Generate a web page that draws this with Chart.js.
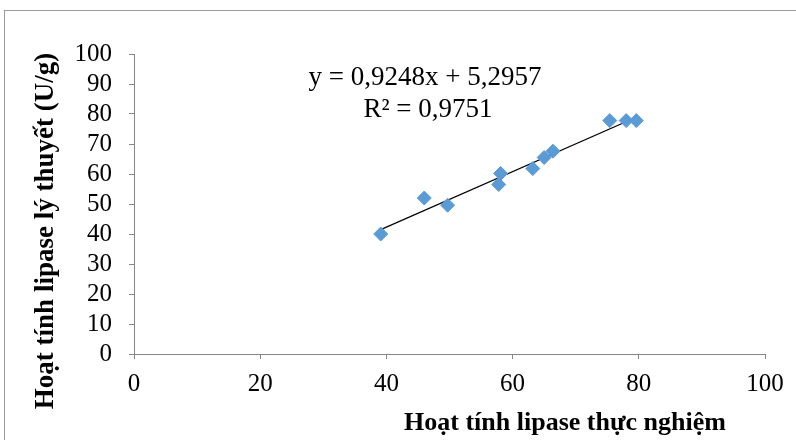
<!DOCTYPE html>
<html>
<head>
<meta charset="utf-8">
<script src="https://cdn.jsdelivr.net/npm/chart.js@4.4.1/dist/chart.umd.min.js"></script>
<style>
  html, body { margin: 0; padding: 0; background: #fff; }
  #wrap { width: 796px; height: 440px; }
</style>
</head>
<body>
<div id="wrap"><canvas id="lipaseChart" width="796" height="440"></canvas></div>
<script>
const xValues = [39.1, 46.0, 49.7, 57.8, 58.1, 63.2, 65.0, 66.4, 75.4, 78.0, 79.6];
const yValues = [40.0, 52.0, 49.6, 56.5, 60.2, 61.8, 65.5, 67.6, 77.8, 77.8, 77.8];

// linear trendline as printed on the chart
const slope = 0.9248;
const intercept = 5.2957;
const equationText = 'y = 0,9248x + 5,2957';
const r2Text = 'R² = 0,9751';

const xTitle = 'Hoạt tính lipase thực nghiệm';
const yTitle = 'Hoạt tính lipase lý thuyết (U/g)';

const points = xValues.map((x, i) => ({ x: x, y: yValues[i] }));
const xMin = Math.min(...xValues);
const xMax = Math.max(...xValues);
const trend = [
    { x: xMin, y: slope * xMin + intercept },
    { x: xMax, y: slope * xMax + intercept }
];

const serif = "'Liberation Serif', 'Times New Roman', serif";
const axisGrey = '#868686';

// frame, axis titles and equation text
const decorations = {
    id: 'decorations',
    beforeDraw(chart) {
        const ctx = chart.ctx;
        ctx.save();
        ctx.strokeStyle = '#9a9a9a';
        ctx.lineWidth = 1;
        ctx.strokeRect(4.5, 10.5, 900, 900);
        ctx.restore();
    },
    afterDraw(chart) {
        const ctx = chart.ctx;
        ctx.save();
        ctx.fillStyle = '#000';
        ctx.textAlign = 'center';
        ctx.textBaseline = 'middle';

        ctx.font = 'bold 26px ' + serif;
        ctx.fillText(xTitle, 565, 423);

        ctx.save();
        ctx.font = 'bold 27px ' + serif;
        ctx.translate(46, 231);
        ctx.rotate(-Math.PI / 2);
        ctx.fillText(yTitle, 0, 0);
        ctx.restore();

        ctx.font = '27px ' + serif;
        ctx.fillText(equationText, 425, 78);
        ctx.fillText(r2Text, 428, 110);
        ctx.restore();
    }
};

const ctx = document.getElementById('lipaseChart').getContext('2d');
const chart = new Chart(ctx, {
    type: 'scatter',
    data: {
        datasets: [{
            label: 'Lipase',
            data: points,
            pointStyle: 'rectRot',
            pointRadius: 7,
            pointHoverRadius: 7,
            backgroundColor: '#5B9BD5',
            borderColor: '#5B9BD5',
            borderWidth: 1
        },
        {
            label: 'Trendline',
            data: trend,
            type: 'line',
            showLine: true,
            borderColor: '#000',
            borderWidth: 1.2,
            pointRadius: 0,
            fill: false
        }]
    },
    options: {
        responsive: false,
        animation: false,
        layout: {
            padding: { left: 0, top: 54, right: 31, bottom: 0 }
        },
        plugins: {
            legend: { display: false },
            tooltip: { enabled: false }
        },
        scales: {
            x: {
                type: 'linear',
                min: 0,
                max: 100,
                afterFit: function(scale) { scale.height = 86; },
                ticks: {
                    stepSize: 20,
                    autoSkip: false,
                    maxRotation: 0,
                    padding: 10,
                    color: '#000',
                    font: { family: serif, size: 25 }
                },
                grid: {
                    drawOnChartArea: false,
                    color: axisGrey,
                    tickLength: 5
                },
                border: { color: axisGrey, width: 1 }
            },
            y: {
                type: 'linear',
                min: 0,
                max: 100,
                afterFit: function(scale) { scale.width = 134; },
                ticks: {
                    stepSize: 10,
                    autoSkip: false,
                    padding: 17,
                    color: '#000',
                    font: { family: serif, size: 25 }
                },
                grid: {
                    drawOnChartArea: false,
                    color: axisGrey,
                    tickLength: 5
                },
                border: { color: axisGrey, width: 1 }
            }
        }
    },
    plugins: [decorations]
});
</script>
</body>
</html>
